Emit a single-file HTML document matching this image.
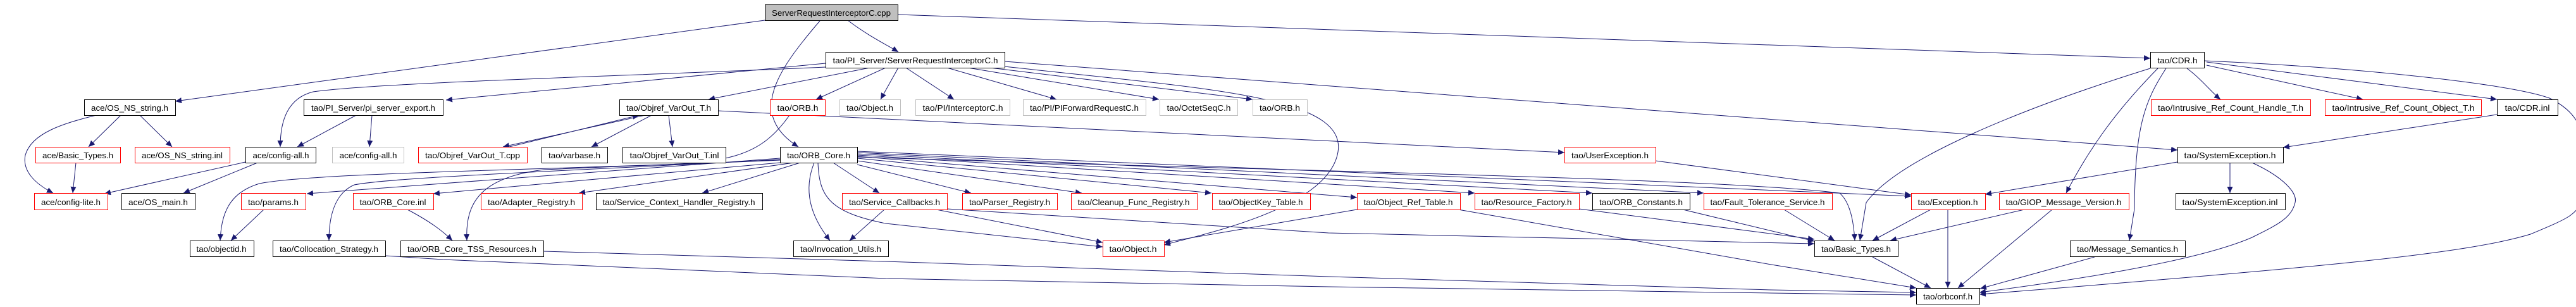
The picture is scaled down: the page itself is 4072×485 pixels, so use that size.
<!DOCTYPE html>
<html><head><meta charset="utf-8"><style>
html,body{margin:0;padding:0;background:#fff;width:4072px;height:485px;overflow:hidden}
svg{display:block}
text{font-family:"Liberation Sans",sans-serif;font-size:13px;fill:#000}
.e{fill:none;stroke:#191970;stroke-width:1}
</style></head><body>
<svg width="4072" height="485" viewBox="0 0 4072 485" xmlns="http://www.w3.org/2000/svg">
<defs><marker id="a" markerUnits="userSpaceOnUse" markerWidth="10" markerHeight="9" refX="10" refY="4.5" orient="auto"><path d="M0,0 L10,4.5 L0,9 z" fill="#191970"/></marker></defs>
<g class="e" marker-end="url(#a)">
<path d="M1209,32 L277,160"/>
<path d="M1340,32 C1370,55 1400,70 1420,82"/>
<path d="M1296,33 C1230,110 1180,180 1262,232"/>
<path d="M1419,23 L3399,92"/>
<path d="M1305,106 C1000,120 600,130 495,145 C455,155 443,190 443,232"/>
<path d="M1305,100 L705,158"/>
<path d="M1375,107 L1120,157"/>
<path d="M1400,107 L1290,157"/>
<path d="M1420,107 L1392,157"/>
<path d="M1432,107 L1508,157"/>
<path d="M1497,107 L1670,157"/>
<path d="M1530,107 L1832,157"/>
<path d="M1540,104 L1980,157"/>
<path d="M1588,97 L3442,237"/>
<path d="M1588,105 C1900,140 2130,150 2115,240 C2100,330 1900,370 1840,387"/>
<path d="M1020,182 L795,232"/>
<path d="M805,232 L1010,182"/>
<path d="M1030,182 L935,232"/>
<path d="M1057,182 L1063,232"/>
<path d="M1135,175 L2473,241"/>
<path d="M1248,182 C1200,250 1150,258 1000,262 L860,268 C760,280 735,320 738,380"/>
<path d="M1233,253 C900,268 500,272 410,290 C360,305 350,340 348,380"/>
<path d="M1233,250 L485,306"/>
<path d="M1233,257 L685,306"/>
<path d="M1233,252 C900,270 620,280 560,292 C530,305 520,340 520,380"/>
<path d="M1255,257 L915,305"/>
<path d="M1265,257 L1110,305"/>
<path d="M1317,257 L1390,305"/>
<path d="M1287,257 C1270,300 1280,340 1312,380"/>
<path d="M1293,257 C1295,310 1310,335 1400,353 L1743,390"/>
<path d="M1480,331 L1743,383"/>
<path d="M1398,331 L1343,380"/>
<path d="M1355,260 L1535,305"/>
<path d="M1355,254 L1710,305"/>
<path d="M1355,250 L1915,305"/>
<path d="M1355,247 L2145,312"/>
<path d="M1355,245 L2331,305"/>
<path d="M1355,243 L2517,305"/>
<path d="M1355,241 L2693,305"/>
<path d="M1355,239 L3021,310"/>
<path d="M1355,248 C2000,270 2700,280 2908,305 C2925,320 2930,350 2932,380"/>
<path d="M152,182 C100,195 50,210 40,245 C35,270 55,290 84,305"/>
<path d="M191,182 L140,232"/>
<path d="M221,182 L272,232"/>
<path d="M120,257 L115,305"/>
<path d="M388,256 L165,306"/>
<path d="M407,257 L290,305"/>
<path d="M563,182 L470,232"/>
<path d="M588,182 L584,232"/>
<path d="M417,331 L365,380"/>
<path d="M644,331 C680,350 700,365 715,380"/>
<path d="M609,404 L700,410 L1400,440 L2100,453 L2800,463 L3029,466"/>
<path d="M859,397 L1400,413 L2100,437 L2800,458 L3029,462"/>
<path d="M2145,331 L1840,383"/>
<path d="M2305,331 L2800,418 L3029,455"/>
<path d="M1497,330 L2100,368 L2868,385"/>
<path d="M2496,330 L2868,378"/>
<path d="M2660,331 L2868,381"/>
<path d="M2820,331 L2900,380"/>
<path d="M3052,331 L2960,380"/>
<path d="M3079,331 L3079,455"/>
<path d="M3200,331 L2988,380"/>
<path d="M3244,331 L3095,455"/>
<path d="M2960,406 L3052,455"/>
<path d="M3311,406 L3130,456"/>
<path d="M3442,256 L3138,307"/>
<path d="M3525,257 L3525,305"/>
<path d="M3560,257 C3610,280 3632,305 3628,320 C3622,345 3600,355 3560,375 C3480,410 3300,440 3129,462"/>
<path d="M3399,108 C3200,170 3000,250 2950,320 L2940,380"/>
<path d="M3411,108 C3340,180 3300,240 3266,305"/>
<path d="M3424,108 C3390,160 3375,200 3374,330 L3366,380"/>
<path d="M3457,108 C3480,125 3495,145 3510,157"/>
<path d="M3488,103 L3735,157"/>
<path d="M3488,98 L3947,157"/>
<path d="M3484,96 C3700,105 3960,130 4030,155 C4080,180 4082,210 4081,230 L4080,320 C4070,340 4060,345 4000,370 C3900,400 3700,420 3129,465"/>
<path d="M3947,181 L3609,233"/>
<path d="M2617,254 L3021,308"/>
</g>
<g stroke-width="1" fill="#fff">
<!-- row0 -->
<rect x="1209.5" y="7.5" width="210" height="25" fill="#bfbfbf" stroke="#000"/>
<!-- row1 -->
<rect x="1305.5" y="82.5" width="283" height="25" stroke="#000"/>
<rect x="3399.5" y="82.5" width="85" height="25" stroke="#000"/>
<!-- row2 -->
<rect x="133.5" y="157.5" width="144" height="25" stroke="#000"/>
<rect x="480.5" y="157.5" width="220" height="25" stroke="#000"/>
<rect x="979.5" y="157.5" width="156" height="25" stroke="#000"/>
<rect x="1217.5" y="157.5" width="87" height="25" stroke="#f00"/>
<rect x="1327.5" y="157.5" width="96" height="25" stroke="#bfbfbf"/>
<rect x="1447.5" y="157.5" width="149" height="25" stroke="#bfbfbf"/>
<rect x="1617.5" y="157.5" width="194" height="25" stroke="#bfbfbf"/>
<rect x="1833.5" y="157.5" width="123" height="25" stroke="#bfbfbf"/>
<rect x="1980.5" y="157.5" width="86" height="25" stroke="#bfbfbf"/>
<rect x="3400.5" y="157.5" width="252" height="25" stroke="#f00"/>
<rect x="3675.5" y="157.5" width="247" height="25" stroke="#f00"/>
<rect x="3947.5" y="157.5" width="96" height="25" stroke="#000"/>
<!-- row3 -->
<rect x="56.5" y="232.5" width="134" height="25" stroke="#f00"/>
<rect x="213.5" y="232.5" width="150" height="25" stroke="#f00"/>
<rect x="388.5" y="232.5" width="111" height="25" stroke="#000"/>
<rect x="525.5" y="232.5" width="113" height="25" stroke="#bfbfbf"/>
<rect x="661.5" y="232.5" width="172" height="25" stroke="#f00"/>
<rect x="856.5" y="232.5" width="104" height="25" stroke="#000"/>
<rect x="984.5" y="232.5" width="163" height="25" stroke="#000"/>
<rect x="1233.5" y="232.5" width="122" height="25" stroke="#000"/>
<rect x="2473.5" y="232.5" width="144" height="25" stroke="#f00"/>
<rect x="3442.5" y="232.5" width="167" height="25" stroke="#000"/>
<!-- row4 -->
<rect x="54.5" y="305.5" width="116" height="26" stroke="#f00"/>
<rect x="192.5" y="305.5" width="116" height="26" stroke="#000"/>
<rect x="381.5" y="305.5" width="102" height="26" stroke="#f00"/>
<rect x="558.5" y="305.5" width="127" height="26" stroke="#f00"/>
<rect x="760.5" y="305.5" width="160" height="26" stroke="#f00"/>
<rect x="942.5" y="305.5" width="263" height="26" stroke="#000"/>
<rect x="1331.5" y="305.5" width="166" height="26" stroke="#f00"/>
<rect x="1521.5" y="305.5" width="150" height="26" stroke="#f00"/>
<rect x="1693.5" y="305.5" width="199" height="26" stroke="#f00"/>
<rect x="1916.5" y="305.5" width="155" height="26" stroke="#f00"/>
<rect x="2145.5" y="305.5" width="163" height="26" stroke="#f00"/>
<rect x="2331.5" y="305.5" width="165" height="26" stroke="#f00"/>
<rect x="2517.5" y="305.5" width="154" height="26" stroke="#000"/>
<rect x="2693.5" y="305.5" width="203" height="26" stroke="#f00"/>
<rect x="3021.5" y="305.5" width="117" height="26" stroke="#f00"/>
<rect x="3160.5" y="305.5" width="205" height="26" stroke="#f00"/>
<rect x="3439.5" y="305.5" width="173" height="26" stroke="#000"/>
<!-- row5 -->
<rect x="300.5" y="380.5" width="101" height="25" stroke="#000"/>
<rect x="431.5" y="380.5" width="178" height="25" stroke="#000"/>
<rect x="633.5" y="380.5" width="226" height="25" stroke="#000"/>
<rect x="1254.5" y="380.5" width="150" height="25" stroke="#000"/>
<rect x="1743.5" y="380.5" width="97" height="25" stroke="#f00"/>
<rect x="2868.5" y="380.5" width="132" height="25" stroke="#000"/>
<rect x="3272.5" y="380.5" width="182" height="25" stroke="#000"/>
<!-- row6 -->
<rect x="3029.5" y="455.5" width="100" height="25" stroke="#000"/>
</g>
<g text-anchor="middle" lengthAdjust="spacingAndGlyphs">
<text x="1314" y="25" textLength="188" lengthAdjust="spacingAndGlyphs">ServerRequestInterceptorC.cpp</text>
<text x="1447" y="100" textLength="261" lengthAdjust="spacingAndGlyphs">tao/PI_Server/ServerRequestInterceptorC.h</text>
<text x="3442" y="100" textLength="63" lengthAdjust="spacingAndGlyphs">tao/CDR.h</text>
<text x="205" y="175" textLength="122" lengthAdjust="spacingAndGlyphs">ace/OS_NS_string.h</text>
<text x="590" y="175" textLength="196" lengthAdjust="spacingAndGlyphs">tao/PI_Server/pi_server_export.h</text>
<text x="1057" y="175" textLength="134" lengthAdjust="spacingAndGlyphs">tao/Objref_VarOut_T.h</text>
<text x="1261" y="175" textLength="65" lengthAdjust="spacingAndGlyphs">tao/ORB.h</text>
<text x="1375" y="175" textLength="74" lengthAdjust="spacingAndGlyphs">tao/Object.h</text>
<text x="1522" y="175" textLength="127" lengthAdjust="spacingAndGlyphs">tao/PI/InterceptorC.h</text>
<text x="1714" y="175" textLength="172" lengthAdjust="spacingAndGlyphs">tao/PI/PIForwardRequestC.h</text>
<text x="1895" y="175" textLength="101" lengthAdjust="spacingAndGlyphs">tao/OctetSeqC.h</text>
<text x="2023" y="175" textLength="64" lengthAdjust="spacingAndGlyphs">tao/ORB.h</text>
<text x="3526" y="175" textLength="230" lengthAdjust="spacingAndGlyphs">tao/Intrusive_Ref_Count_Handle_T.h</text>
<text x="3799" y="175" textLength="225" lengthAdjust="spacingAndGlyphs">tao/Intrusive_Ref_Count_Object_T.h</text>
<text x="3995" y="175" textLength="71" lengthAdjust="spacingAndGlyphs">tao/CDR.inl</text>
<text x="123" y="250" textLength="112" lengthAdjust="spacingAndGlyphs">ace/Basic_Types.h</text>
<text x="288" y="250" textLength="128" lengthAdjust="spacingAndGlyphs">ace/OS_NS_string.inl</text>
<text x="444" y="250" textLength="89" lengthAdjust="spacingAndGlyphs">ace/config-all.h</text>
<text x="582" y="250" textLength="91" lengthAdjust="spacingAndGlyphs">ace/config-all.h</text>
<text x="747" y="250" textLength="150" lengthAdjust="spacingAndGlyphs">tao/Objref_VarOut_T.cpp</text>
<text x="908" y="250" textLength="82" lengthAdjust="spacingAndGlyphs">tao/varbase.h</text>
<text x="1066" y="250" textLength="141" lengthAdjust="spacingAndGlyphs">tao/Objref_VarOut_T.inl</text>
<text x="1294" y="250" textLength="100" lengthAdjust="spacingAndGlyphs">tao/ORB_Core.h</text>
<text x="2545" y="250" textLength="122" lengthAdjust="spacingAndGlyphs">tao/UserException.h</text>
<text x="3525" y="250" textLength="145" lengthAdjust="spacingAndGlyphs">tao/SystemException.h</text>
<text x="112" y="324" textLength="94" lengthAdjust="spacingAndGlyphs">ace/config-lite.h</text>
<text x="250" y="324" textLength="94" lengthAdjust="spacingAndGlyphs">ace/OS_main.h</text>
<text x="432" y="324" textLength="80" lengthAdjust="spacingAndGlyphs">tao/params.h</text>
<text x="621" y="324" textLength="105" lengthAdjust="spacingAndGlyphs">tao/ORB_Core.inl</text>
<text x="840" y="324" textLength="138" lengthAdjust="spacingAndGlyphs">tao/Adapter_Registry.h</text>
<text x="1073" y="324" textLength="241" lengthAdjust="spacingAndGlyphs">tao/Service_Context_Handler_Registry.h</text>
<text x="1414" y="324" textLength="144" lengthAdjust="spacingAndGlyphs">tao/Service_Callbacks.h</text>
<text x="1596" y="324" textLength="128" lengthAdjust="spacingAndGlyphs">tao/Parser_Registry.h</text>
<text x="1792" y="324" textLength="177" lengthAdjust="spacingAndGlyphs">tao/Cleanup_Func_Registry.h</text>
<text x="1993" y="324" textLength="133" lengthAdjust="spacingAndGlyphs">tao/ObjectKey_Table.h</text>
<text x="2226" y="324" textLength="141" lengthAdjust="spacingAndGlyphs">tao/Object_Ref_Table.h</text>
<text x="2413" y="324" textLength="143" lengthAdjust="spacingAndGlyphs">tao/Resource_Factory.h</text>
<text x="2594" y="324" textLength="132" lengthAdjust="spacingAndGlyphs">tao/ORB_Constants.h</text>
<text x="2794" y="324" textLength="181" lengthAdjust="spacingAndGlyphs">tao/Fault_Tolerance_Service.h</text>
<text x="3079" y="324" textLength="95" lengthAdjust="spacingAndGlyphs">tao/Exception.h</text>
<text x="3262" y="324" textLength="183" lengthAdjust="spacingAndGlyphs">tao/GIOP_Message_Version.h</text>
<text x="3525" y="324" textLength="151" lengthAdjust="spacingAndGlyphs">tao/SystemException.inl</text>
<text x="350" y="398" textLength="79" lengthAdjust="spacingAndGlyphs">tao/objectid.h</text>
<text x="520" y="398" textLength="156" lengthAdjust="spacingAndGlyphs">tao/Collocation_Strategy.h</text>
<text x="746" y="398" textLength="204" lengthAdjust="spacingAndGlyphs">tao/ORB_Core_TSS_Resources.h</text>
<text x="1329" y="398" textLength="128" lengthAdjust="spacingAndGlyphs">tao/Invocation_Utils.h</text>
<text x="1791" y="398" textLength="75" lengthAdjust="spacingAndGlyphs">tao/Object.h</text>
<text x="2934" y="398" textLength="110" lengthAdjust="spacingAndGlyphs">tao/Basic_Types.h</text>
<text x="3363" y="398" textLength="160" lengthAdjust="spacingAndGlyphs">tao/Message_Semantics.h</text>
<text x="3079" y="473" textLength="78" lengthAdjust="spacingAndGlyphs">tao/orbconf.h</text>
</g>
</svg>
</body></html>
